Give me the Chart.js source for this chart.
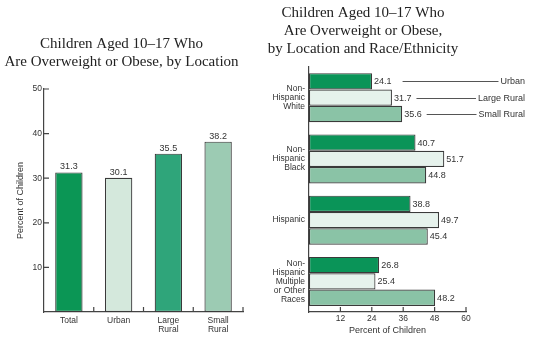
<!DOCTYPE html>
<html>
<head>
<meta charset="utf-8">
<script src="https://cdn.jsdelivr.net/npm/chart.js@4"></script>
<style>
html, body { margin: 0; padding: 0; background: #fff; }
#wrap { position: relative; width: 533px; height: 346px; }
#locChart { position: absolute; left: 0; top: 0; }
#raceChart { position: absolute; left: 260px; top: 0; }
</style>
</head>
<body>
<div id="wrap">
  <canvas id="locChart" width="246" height="346"></canvas>
  <canvas id="raceChart" width="273" height="346"></canvas>
</div>
<script>
// left chart: by location
const locLabels = ['Total', 'Urban', ['Large', 'Rural'], ['Small', 'Rural']];
const locValues = [31.3, 30.1, 35.5, 38.2];
const locColors = ['#0b9655', '#d4e8dc', '#2fa57a', '#9ccbb3'];

// right chart: by location and race/ethnicity
const raceLabels = [
    ['Non-', 'Hispanic', 'White'],
    ['Non-', 'Hispanic', 'Black'],
    'Hispanic',
    ['Non-', 'Hispanic', 'Multiple', 'or Other', 'Races'],
];
const seriesNames = ['Urban', 'Large Rural', 'Small Rural'];
const urbanValues = [24.1, 40.7, 38.8, 26.8];
const largeRuralValues = [31.7, 51.7, 49.7, 25.4];
const smallRuralValues = [35.6, 44.8, 45.4, 48.2];
const seriesColors = ['#0a9458', '#e6f2ec', '#8ac3a6'];

const axisColor = '#444';
const textColor = '#333';
const sans = '"Liberation Sans", Arial, sans-serif';
const serif = '"Liberation Serif", "Times New Roman", serif';

Chart.defaults.font.family = sans;
Chart.defaults.color = textColor;

// short tick marks pointing into the plot area
const innerTicks = {
    id: 'innerTicks',
    afterDraw(chart, args, opts) {
        const ctx = chart.ctx;
        const len = 5;
        ctx.save();
        ctx.strokeStyle = axisColor;
        ctx.lineWidth = 1.2;
        ctx.beginPath();
        (opts.scales || []).forEach(id => {
            const s = chart.scales[id];
            if (s.type === 'category') {
                const n = s.getLabels().length;
                for (let i = 1; i <= n; i++) {
                    const x = i < n ? (s.getPixelForValue(i - 1) + s.getPixelForValue(i)) / 2 : s.right;
                    ctx.moveTo(x, s.top);
                    ctx.lineTo(x, s.top - len);
                }
            } else if (s.isHorizontal()) {
                s.ticks.forEach(t => {
                    if (t.value === 0) return;
                    const x = s.getPixelForValue(t.value);
                    ctx.moveTo(x, s.top);
                    ctx.lineTo(x, s.top - len);
                });
            } else {
                s.ticks.forEach(t => {
                    if (t.value === 0) return;
                    const y = s.getPixelForValue(t.value);
                    ctx.moveTo(s.right, y);
                    ctx.lineTo(s.right + len, y);
                });
            }
        });
        ctx.stroke();
        ctx.restore();
    }
};

const valueLabels = {
    id: 'valueLabels',
    afterDatasetsDraw(chart, args, opts) {
        const ctx = chart.ctx;
        ctx.save();
        ctx.font = '9px ' + sans;
        ctx.fillStyle = textColor;
        chart.data.datasets.forEach((ds, di) => {
            chart.getDatasetMeta(di).data.forEach((bar, i) => {
                const txt = ds.data[i].toFixed(1);
                if (opts.horizontal) {
                    ctx.textAlign = 'left';
                    ctx.textBaseline = 'middle';
                    ctx.fillText(txt, bar.x + 2, bar.y + 0.5);
                } else {
                    ctx.textAlign = 'center';
                    ctx.textBaseline = 'alphabetic';
                    ctx.fillText(txt, bar.x, bar.y - 3);
                }
            });
        });
        ctx.restore();
    }
};

// series names with leader lines next to the first group
const leaderLegend = {
    id: 'leaderLegend',
    afterDatasetsDraw(chart, args, opts) {
        const ctx = chart.ctx;
        ctx.save();
        ctx.font = '9px ' + sans;
        ctx.fillStyle = textColor;
        ctx.strokeStyle = '#555';
        ctx.lineWidth = 1;
        const right = chart.width - opts.rightPad;
        chart.data.datasets.forEach((ds, di) => {
            const bar = chart.getDatasetMeta(di).data[0];
            const valW = ctx.measureText(ds.data[0].toFixed(1)).width;
            const nameW = ctx.measureText(ds.label).width;
            const x0 = bar.x + 2 + valW + opts.gaps[di];
            const x1 = right - nameW - 2;
            const y = Math.round(bar.y) + 0.5;
            ctx.beginPath();
            ctx.moveTo(x0, y);
            ctx.lineTo(x1, y);
            ctx.stroke();
            ctx.textAlign = 'right';
            ctx.textBaseline = 'middle';
            ctx.fillText(ds.label, right, bar.y + 0.5);
        });
        ctx.restore();
    }
};

const titleFont = { family: serif, size: 15, weight: 'normal', lineHeight: 1.2 };

new Chart(document.getElementById('locChart'), {
    type: 'bar',
    data: {
        labels: locLabels,
        datasets: [{
            data: locValues,
            backgroundColor: locColors,
            borderColor: '#3a3a3a',
            borderWidth: 1.2,
            borderSkipped: false,
            barPercentage: 0.55,
            categoryPercentage: 1,
        }],
    },
    options: {
        responsive: false,
        animation: false,
        layout: { padding: { top: 0, right: 3, bottom: 0, left: 0 } },
        plugins: {
            legend: { display: false },
            tooltip: { enabled: false },
            title: {
                display: true,
                text: ['Children Aged 10\u201317 Who', 'Are Overweight or Obese, by Location'],
                font: titleFont,
                color: '#222',
                padding: { top: 35, bottom: 18 },
            },
            innerTicks: { scales: ['x', 'y'] },
            valueLabels: { horizontal: false },
        },
        scales: {
            x: {
                grid: { display: false, drawTicks: false },
                border: { display: true, color: axisColor, width: 1.2 },
                ticks: { font: { size: 8.5, lineHeight: 1.06 }, padding: 4, maxRotation: 0, autoSkip: false },
                afterFit: s => { s.height = 34; },
            },
            y: {
                min: 0,
                max: 50,
                grid: { display: false, drawTicks: false },
                border: { display: true, color: axisColor, width: 1.2 },
                ticks: { stepSize: 10, font: { size: 8.5 }, padding: 2, callback: v => v === 0 ? '' : v },
                title: { display: true, text: 'Percent of Children', font: { size: 9 }, padding: { top: 15, bottom: 0 } },
                afterFit: s => { s.width = 44; },
            },
        },
    },
    plugins: [innerTicks, valueLabels],
});

new Chart(document.getElementById('raceChart'), {
    type: 'bar',
    data: {
        labels: raceLabels,
        datasets: [urbanValues, largeRuralValues, smallRuralValues].map((vals, i) => ({
            label: seriesNames[i],
            data: vals,
            backgroundColor: seriesColors[i],
            borderColor: '#3a3a3a',
            borderWidth: 1.2,
            borderSkipped: false,
            barPercentage: 1,
            categoryPercentage: 0.8,
        })),
    },
    options: {
        indexAxis: 'y',
        responsive: false,
        animation: false,
        layout: { padding: { top: 0, right: 67, bottom: 0, left: 0 } },
        plugins: {
            legend: { display: false },
            tooltip: { enabled: false },
            title: {
                display: true,
                text: ['Children Aged 10\u201317 Who', 'Are Overweight or Obese,', 'by Location and Race/Ethnicity'],
                font: titleFont,
                color: '#222',
                padding: { top: 4, bottom: 9 },
            },
            innerTicks: { scales: ['x'] },
            valueLabels: { horizontal: true },
            leaderLegend: { rightPad: 8, gaps: [11, 5, 5] },
        },
        scales: {
            x: {
                min: 0,
                max: 60,
                grid: { display: false, drawTicks: false },
                border: { display: true, color: axisColor, width: 1.2 },
                ticks: { stepSize: 12, font: { size: 8.5 }, padding: 2, callback: v => v === 0 ? '' : v },
                title: { display: true, text: 'Percent of Children', font: { size: 9 }, padding: { top: 0, bottom: 10 } },
                afterFit: s => { s.height = 34; },
            },
            y: {
                grid: { display: false, drawTicks: false },
                border: { display: true, color: axisColor, width: 1.2 },
                ticks: { font: { size: 8.5, lineHeight: 1.06 }, padding: 4, autoSkip: false },
                afterFit: s => { s.width = 49; },
            },
        },
    },
    plugins: [innerTicks, valueLabels, leaderLegend],
});
</script>
</body>
</html>
